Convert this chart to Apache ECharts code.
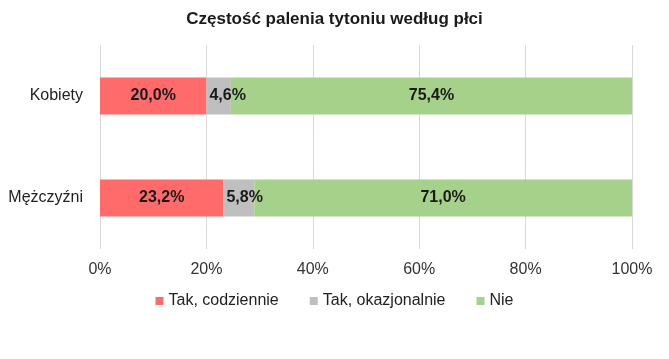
<!DOCTYPE html>
<html><head><meta charset="utf-8">
<script src="https://cdn.jsdelivr.net/npm/echarts@6/dist/echarts.min.js"></script>
<style>html,body{margin:0;padding:0;background:#fff}#c{width:669px;height:359px}</style>
</head><body><div id="c"></div>
<script>
const categories = ['Mężczyźni', 'Kobiety'];
const codziennie = [23.2, 20.0];
const okazjonalnie = [5.8, 4.6];
const nie = [71.0, 75.4];
const xTicks = [0, 20, 40, 60, 80, 100];

const fmt = p => p.value.toFixed(1).replace('.', ',') + '%';
const FONT = 'Liberation Sans';
const chart = echarts.init(document.getElementById('c'));
const lbl = {show: true, formatter: fmt, fontFamily: FONT, fontSize: 16, fontWeight: 'bold', color: '#1a1a1a'};
chart.setOption({
  animation: false,
  title: {text: 'Częstość palenia tytoniu według płci', left: 'center', top: 6,
    textStyle: {fontFamily: FONT, fontSize: 17, fontWeight: 'bold', color: '#1a1a1a'}},
  legend: {bottom: 45, left: 'center', itemWidth: 8, itemHeight: 8, itemGap: 31, icon: 'rect',
    textStyle: {fontFamily: FONT, fontSize: 16, color: '#222'}},
  grid: {left: 100, right: 37, top: 45, bottom: 110},
  xAxis: {type: 'value', min: 0, max: 100, interval: 20,
    axisLabel: {formatter: v => v + '%', fontFamily: FONT, fontSize: 16, color: '#333', margin: 13},
    splitLine: {lineStyle: {color: '#d9d9d9'}}, axisLine: {show: false}, axisTick: {show: false}},
  yAxis: {type: 'category', data: categories,
    axisLabel: {fontFamily: FONT, fontSize: 16, color: '#222', margin: 17},
    axisLine: {show: false}, axisTick: {show: false}},
  series: [
    {name: 'Tak, codziennie', type: 'bar', stack: 't', data: codziennie, barWidth: 37,
      itemStyle: {color: '#FF6B6B'}, label: Object.assign({position: 'inside'}, lbl)},
    {name: 'Tak, okazjonalnie', type: 'bar', stack: 't', data: okazjonalnie,
      itemStyle: {color: '#BFBFBF'}, label: Object.assign({position: 'insideLeft', distance: 3}, lbl)},
    {name: 'Nie', type: 'bar', stack: 't', data: nie,
      itemStyle: {color: '#A6D18A'}, label: Object.assign({position: 'inside'}, lbl)}
  ]
});
</script></body></html>
